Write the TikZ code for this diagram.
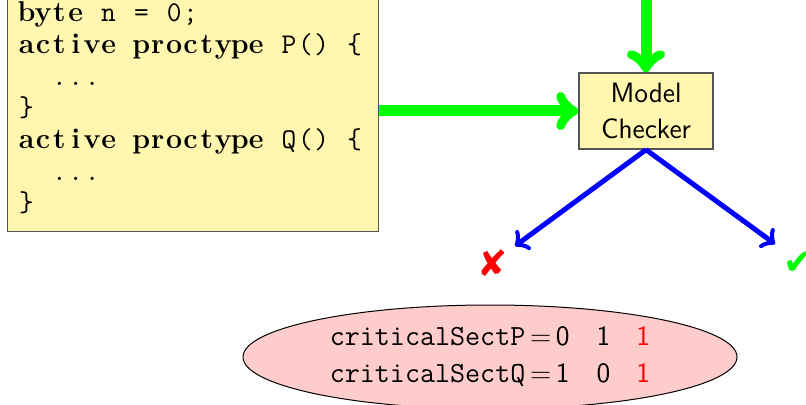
\documentclass[tikz,border=0pt]{standalone}
\usepackage{fontspec}
\newfontfamily\dejavu{DejaVu Sans}
\usetikzlibrary{arrows.meta,shapes.geometric}
\definecolor{boxfill}{RGB}{255,246,176}
\definecolor{boxdraw}{RGB}{85,85,85}
\definecolor{pgreen}{RGB}{0,255,0}
\definecolor{pblue}{RGB}{0,0,255}
\definecolor{ellfill}{RGB}{255,204,204}
\def\colset#1{\ifx\relax#1\else\makebox[8.2pt]{#1}\expandafter\colset\fi}
\newcommand\kw[1]{{\rmfamily\bfseries\colset#1\relax}}
\newcommand\cd[1]{{\ttfamily\colset#1\relax}}
\tikzset{
  yellowbox/.style={draw=boxdraw, line width=0.7pt, fill=boxfill, inner sep=0pt},
  codeline/.style={anchor=base west, inner sep=0pt, font=\fontsize{14.3}{16}\selectfont},
  greenarrow/.style={draw=pgreen, line width=5.5pt, -{Classical TikZ Rightarrow[length=11pt,width=19pt,round]}},
  bluearrow/.style={draw=pblue, line width=2.5pt, -{Classical TikZ Rightarrow[length=6pt,width=12pt,round]}},
  resultmark/.style={inner sep=0pt, font=\dejavu\fontsize{18}{18}\selectfont}
}
\begin{document}
\begin{tikzpicture}[x=0.5pt,y=-0.5pt]
\useasboundingbox (0,0) rectangle (806,405);
\clip (0,0) rectangle (806,405);
% code box
\node[yellowbox, anchor=south west, minimum width=185.5pt, minimum height=125pt] (code) at (7,232) {};
\node[codeline] (l1) at (18,22) {\kw{byte}\cd{~n~=~0;}};
\node[codeline] (l2) at (18,54) {\kw{active}\cd{~}\kw{proctype}\cd{~P()~\{}};
\node[codeline] (l3) at (18,85.5) {\cd{~~...}};
\node[codeline] (l4) at (18,117) {\cd{\}}};
\node[codeline] (l5) at (18,149) {\kw{active}\cd{~}\kw{proctype}\cd{~Q()~\{}};
\node[codeline] (l6) at (18,180.5) {\cd{~~...}};
\node[codeline] (l7) at (18,212) {\cd{\}}};
% model checker
\node[yellowbox, minimum width=67pt, minimum height=38pt, align=center,
      font=\sffamily\fontsize{14}{18}\selectfont] (mc) at (646,111) {Model\\Checker};
\coordinate (src) at (646,-20);
\draw[greenarrow] (src) -- (mc.north);
\draw[greenarrow] (code.east |- mc.west) -- (mc.west);
% results
\coordinate (failend) at (515,246);
\coordinate (okend) at (775,244);
\draw[bluearrow] (mc.south) -- (failend);
\draw[bluearrow] (mc.south) -- (okend);
\node[resultmark, text=red] (fail) at (493,263) {✘};
\node[resultmark, text=pgreen] (ok) at (799,263) {✔};
% counterexample
\node[ellipse, draw=black, line width=0.5pt, fill=ellfill, minimum width=247pt, minimum height=52pt, inner sep=0pt] (ell) at (490,357) {};
\node[inner sep=0pt] (vals) at (ell.center) {\fontsize{14}{18.5}\selectfont\sffamily
  \begin{tabular}{@{}l@{\hspace{13.5pt}}c@{\hspace{13pt}}c@{}}
  {\fontsize{14.6}{18.5}\selectfont\ttfamily criticalSectP}\,=\,0 & 1 & \textcolor{red}{1}\\
  {\fontsize{14.6}{18.5}\selectfont\ttfamily criticalSectQ}\,=\,1 & 0 & \textcolor{red}{1}
  \end{tabular}};
\end{tikzpicture}
\end{document}
